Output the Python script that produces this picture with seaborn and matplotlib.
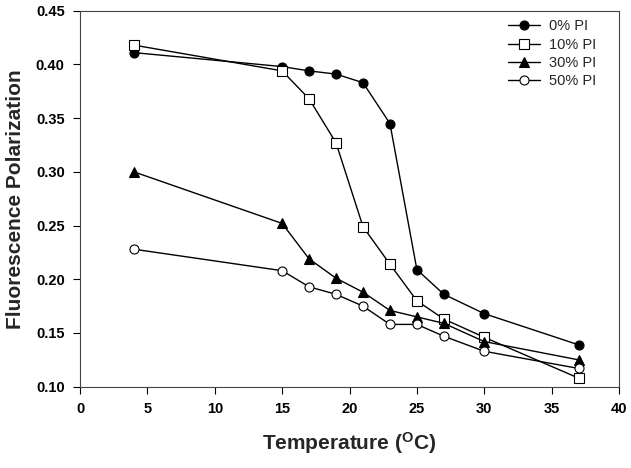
import matplotlib
matplotlib.use("Agg")
import matplotlib.pyplot as plt
import seaborn as sns
import pandas as pd

temps = [4, 15, 17, 19, 21, 23, 25, 27, 30, 37]
pi0 = [0.411, 0.398, 0.394, 0.391, 0.383, 0.345, 0.209, 0.186, 0.168, 0.139]
pi10 = [0.418, 0.394, 0.368, 0.327, 0.249, 0.214, 0.180, 0.163, 0.146, 0.108]
pi30 = [0.300, 0.252, 0.219, 0.201, 0.188, 0.171, 0.165, 0.159, 0.142, 0.125]
pi50 = [0.228, 0.208, 0.193, 0.186, 0.175, 0.158, 0.158, 0.147, 0.133, 0.117]
labels = ["0% PI", "10% PI", "30% PI", "50% PI"]
x_ticks = [0, 5, 10, 15, 20, 25, 30, 35, 40]
y_ticks = [0.10, 0.15, 0.20, 0.25, 0.30, 0.35, 0.40, 0.45]

sns.set_style("ticks")
plt.rcParams["font.family"] = ["Liberation Sans", "DejaVu Sans"]
plt.rcParams["mathtext.fontset"] = "custom"
plt.rcParams["mathtext.rm"] = "Liberation Sans:bold"
plt.rcParams["mathtext.bf"] = "Liberation Sans:bold"
plt.rcParams["mathtext.it"] = "Liberation Sans:bold"

fig = plt.figure(figsize=(6.31, 4.68), dpi=100)
ax = fig.add_axes([0.1268, 0.1737, 0.8542, 0.8034])

styles = [
    ("o", "black"),
    ("s", "white"),
    ("^", "black"),
    ("o", "white"),
]
for series, lab, (mk, fc) in zip([pi0, pi10, pi30, pi50], labels, styles):
    df = pd.DataFrame({"T": temps, "P": series})
    sns.lineplot(data=df, x="T", y="P", ax=ax, color="black", linewidth=1.0,
                 marker=mk, markersize=6.5, markerfacecolor=fc,
                 markeredgecolor="black", markeredgewidth=0.8, label=lab)

ax.set_xlim(0, 40)
ax.set_ylim(0.10, 0.45)
ax.set_xticks(x_ticks)
ax.set_yticks(y_ticks)
ax.set_xticklabels([str(t) for t in x_ticks], fontsize=10.5, fontweight="bold")
ax.set_yticklabels([f"{t:.2f}" for t in y_ticks], fontsize=10.5, fontweight="bold")
ax.tick_params(direction="out", length=5, width=0.8, colors="black", pad=6)
for s in ax.spines.values():
    s.set_visible(True)
    s.set_color("#444444")
    s.set_linewidth(0.8)

ax.set_xlabel(r"Temperature ($^{\mathrm{O}}$C)", fontsize=15, fontweight="bold", labelpad=10)
ax.set_ylabel("Fluorescence Polarization", fontsize=15, fontweight="bold", labelpad=8)

leg = ax.legend(loc="upper right", frameon=False, fontsize=10.5, handlelength=2.2,
                labelspacing=0.3, bbox_to_anchor=(0.982, 1.012), handletextpad=0.6)

fig.savefig("out.png", dpi=100)
